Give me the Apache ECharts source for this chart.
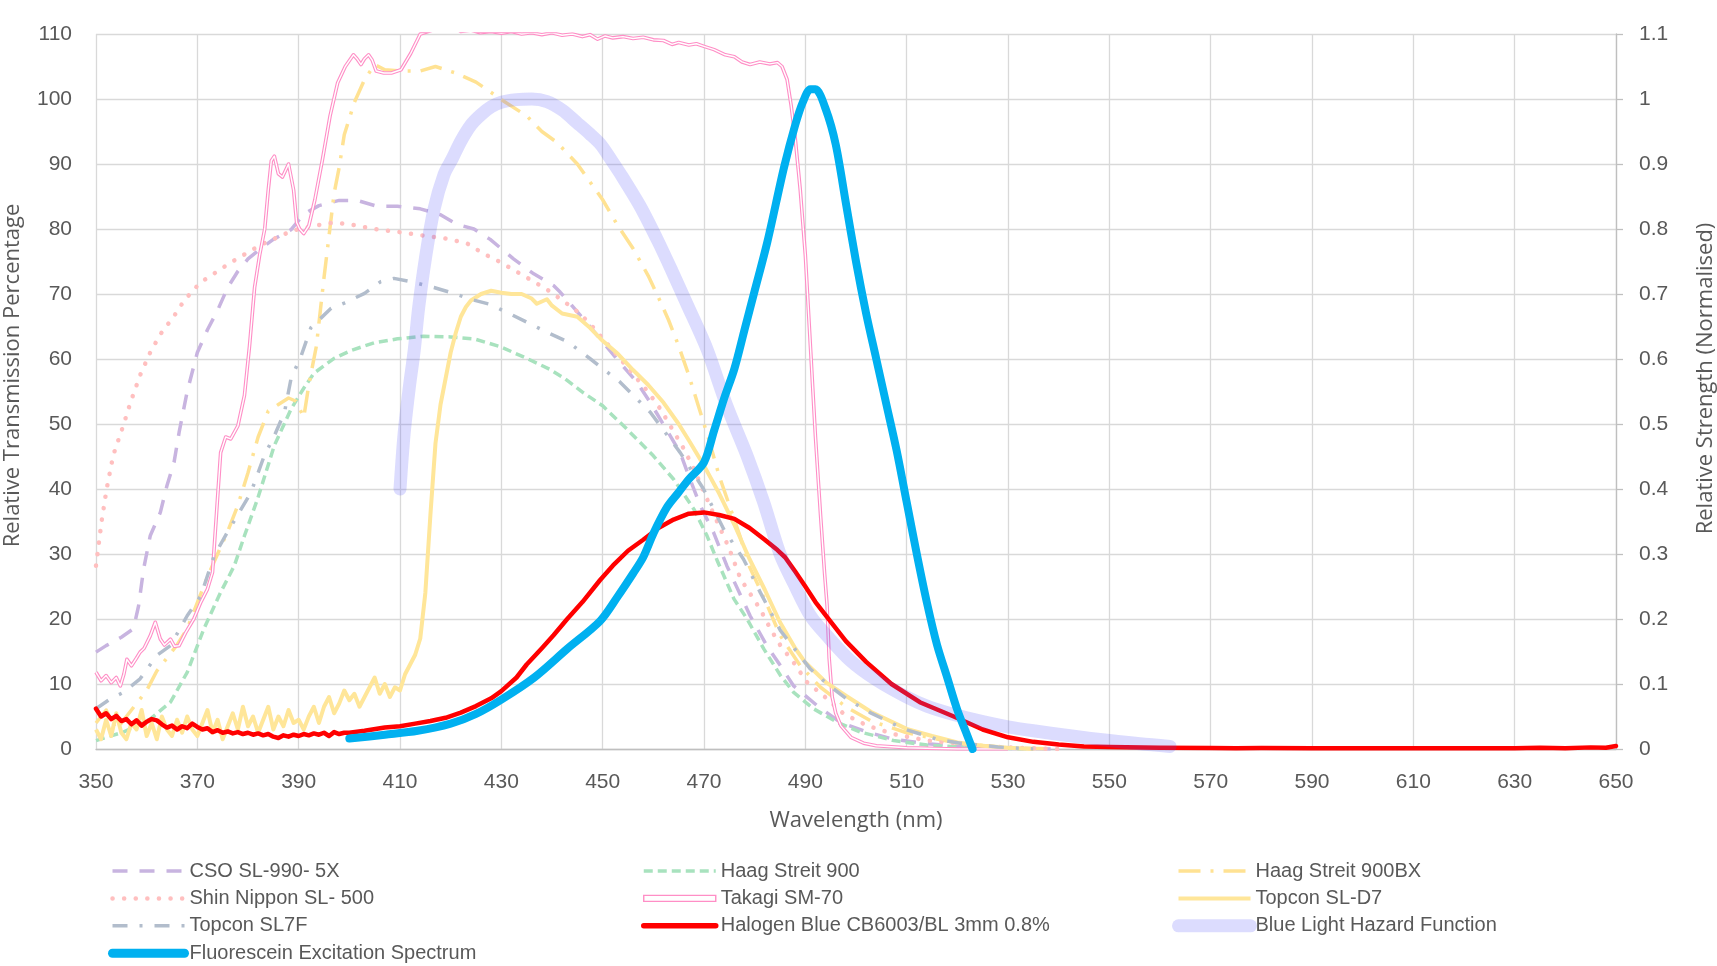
<!DOCTYPE html>
<html>
<head>
<meta charset="utf-8">
<script src="https://cdn.jsdelivr.net/npm/echarts@6/dist/echarts.min.js"></script>
<style>html,body{margin:0;padding:0;background:#fff;}#chart{width:1717px;height:966px;}</style>
</head>
<body>
<div id="chart"></div>
<script>
// ---- data: [wavelength nm, value] ----
const csoData = [[350,14.9],[352,15.9],[355,17.2],[357.4,18.5],[358.4,22],[359.4,27.7],[360.7,32.8],[362.7,36.4],[364,40.5],[365.4,44.1],[366.4,48.7],[368,55],[369,58],[370,61],[372,64.5],[374,67.5],[376,71],[378,73.5],[380,75.4],[382.5,77],[385,78.4],[388.5,79.9],[391,82.3],[394,83.6],[398,84.4],[401.5,84.4],[405.5,83.5],[409.5,83.5],[414,83.1],[418,82.2],[421.3,80.7],[424.6,80],[427.8,78.4],[432.4,75.4],[436.4,73.1],[440.3,71.3],[441.6,70.3],[445.6,66.7],[449.5,63.1],[452.8,60],[456.8,56.4],[459.4,53.3],[462.7,49],[465.3,45.6],[467,42],[469.3,37.4],[471.9,33.3],[474.5,28.2],[479.1,20.5],[482.4,15.9],[485.1,12.8],[487.7,9.7],[492.3,6.7],[496.9,4.1],[502.2,2.6],[507.4,1.5],[514,0.8],[520.6,0.4],[528,0.1],[540,0]];

const haag900Data = [[350,1.3],[355.4,2.6],[360.7,4.6],[364.7,7.2],[368,11.8],[371.3,18.5],[374.6,24.1],[377.3,28.2],[379.3,32.8],[381.9,38.5],[385.2,46.7],[388.5,52.3],[391,55.5],[393,57.8],[397,60.1],[400.3,61.3],[404.9,62.5],[409.5,63.1],[414.7,63.5],[420,63.4],[424.6,63.1],[429.8,61.9],[435,60.1],[439.6,58.4],[442.5,57],[446.2,54.8],[450,52.8],[454.8,49.2],[460,45.1],[464,41.5],[468,36.9],[470.6,32.8],[472.6,29],[475.9,23.1],[478.5,20],[481.8,15.4],[485.1,11.3],[487.7,8.7],[491.6,6.2],[496.3,4.1],[500.9,2.6],[507.4,1.3],[514,0.6],[520.6,0.3],[528,0.1],[535,0]];

const haag900bxData = [[350,4],[352,6],[354,3],[356,5],[358,7],[360,9],[362,12],[364,14],[366,16],[368,18.5],[370,22.5],[372,26.5],[374,30],[376,33.5],[378,37.5],[380,42.5],[382,48],[384,52],[386,53],[388,54],[389.5,53.5],[391,51],[392,56],[393.5,62],[395,72.5],[397,85.5],[398,89.5],[399,94.5],[401,99.5],[403,103],[405,105.3],[407,104.5],[410,104.3],[414,104.3],[417,105],[421,104],[425,102.6],[428,101],[430,99.9],[435,97.4],[438,95],[441,93.3],[445,90],[447,87.8],[450,84.5],[453,80.5],[456,77],[459,72.8],[461,69.5],[463,66],[465,62],[467,57.5],[469,52.5],[471,47.5],[473,42],[475,37.5],[477,33],[479,28],[482,23],[485,17.5],[489,12.8],[493,9.5],[498,6.5],[503,4.3],[510,2.5],[520,0.9],[530,0.2],[540,0]];

const shinNipponData = [[350,28.2],[351.1,35],[352.1,40],[353.4,45.2],[355.4,49.8],[356.8,53.3],[358.7,57.5],[360.7,61],[362.7,63.8],[365.4,66.6],[367.4,69],[370.5,71.7],[376.5,74.8],[382.6,77.6],[388.6,79.7],[392.4,80.4],[397,81],[400.9,80.6],[404.9,80],[410.1,79.5],[415.4,78.9],[419.3,78.5],[423.2,77.8],[426.5,76.2],[429.8,74.9],[433.1,73.4],[436.4,71.9],[439,70.7],[442.3,68.9],[445.5,67],[448.2,64.8],[453.5,60],[458.8,55.1],[461.4,52.3],[466,46.2],[468,43.1],[471.3,37.2],[474.9,31],[477.2,26.2],[481.1,21.5],[483.1,18.5],[485.1,15.9],[487.7,13.3],[490.3,10.3],[493.6,8.2],[497.6,5.4],[502.2,3.6],[507.4,2.3],[514,1.3],[520.6,0.8],[528,0.3],[535,0.1],[540,0]];

const takagiData = [[350,11.8],[351,10.5],[352,11.3],[353,10.2],[354,11],[354.8,9.7],[355.5,11.5],[356.1,13.8],[357,12.8],[358,14],[358.7,14.9],[359.5,15.5],[360.7,17.4],[361.7,19.5],[362.7,16.9],[363.5,16],[364.7,16.9],[365.5,15.8],[366.4,15.9],[367.7,17.9],[369.3,20],[370.7,22.6],[372,24.6],[373,27.2],[373.8,36.4],[374.6,45.6],[375.6,48],[376.6,47.7],[378,49.7],[379.3,54.4],[380.3,62],[381.3,71],[382.3,76],[383.3,80],[384,86],[384.6,90.5],[385.2,91.2],[386,88.5],[386.8,88],[388,90],[389,86],[389.6,81],[390.2,80],[391,79.3],[392,80.5],[393.2,84.5],[394.7,90.7],[396.2,97.4],[397.7,102.5],[399.2,105],[400.8,106.8],[401.5,106.2],[402.3,105.3],[403,106.2],[403.8,106.8],[404.5,106],[405.3,104.3],[406.8,104],[408.3,104],[410.2,104.5],[412.1,107],[414,110],[416,110.5],[418.2,111],[419.7,110.7],[421,110.9],[422,110.4],[424,110.6],[425.8,110.2],[428,110.4],[430,110.1],[432,110.4],[434,110],[436,110.2],[438,109.9],[440,110.2],[442,109.8],[444,110],[446,109.6],[447.5,109.9],[449,109.2],[450.5,109.7],[452,109.4],[454,109.6],[456,109.3],[458,109.5],[460,109.1],[462,109],[463.7,108.4],[465,108.7],[467,108.3],[468.5,108.5],[470,108.1],[472,107.6],[474.2,106.8],[476,106.5],[477.5,105.7],[479.1,105.3],[481,105.7],[483,105.4],[484.5,105.6],[485.4,105],[486.4,103],[487.2,99],[488,94],[489,86],[490,76],[491,62],[492,48],[493,36],[493.8,27],[494.3,22],[494.7,14],[495.3,8],[496,5.5],[497,3.6],[499,1.8],[501.5,0.9],[504,0.5],[510,0.2],[520,0],[530,0]];

const topconD7Data = [[350,3],[351,1.5],[352,4.5],[353,2],[354,5.5],[355,2.5],[356,1.5],[357,4],[358,3],[359,6],[360,2],[361,4],[362,1.5],[363,5],[364,3],[365,2],[366,4.5],[367,2.5],[368,5],[369,3],[370,2],[371,4],[372,6],[373,2.5],[374,4.5],[375,1.5],[376,3.5],[377,5.5],[378,3],[379,6.5],[380,3.5],[381,5],[382,2.5],[383,4.5],[384,6.5],[385,3],[386,5],[387,3.5],[388,6],[389,4],[390,4.5],[391,3],[392,5],[393,6.5],[394,4],[395,6.5],[396,8],[397,5.5],[398,7],[399,9],[400,7.5],[401,8.5],[402,6.5],[403,8],[404,9.5],[405,11],[406,8.5],[407,10],[408,8],[409,9.5],[410,9],[411,11.5],[412,13],[413,14.5],[414,17],[415,24],[416,36],[417,47],[418,53],[419,57],[420,61],[421,64],[422,66.5],[423,68],[424,69],[426,70],[428,70.5],[430,70.2],[432,70],[434,70],[436,69.3],[437,68.5],[439,69.2],[440,68.2],[442,67],[445,66.5],[447.5,64.8],[450,62.8],[453,60.8],[456,58.3],[459,56],[462,53.3],[465,50],[467,47.5],[470,43.6],[473,39.3],[476,34.5],[479,29.2],[482,24.5],[485,19.5],[488,15.5],[490,13.3],[494,10.3],[498,8.2],[503,5.7],[510,3.1],[515,2],[520,1],[525,0.5],[530,0.2],[535,0]];

const topcon7fData = [[350,6.2],[352.8,7.7],[355.4,8.7],[358.7,10.8],[362,14.4],[364.7,15.9],[368,20.5],[370.7,23.6],[373.3,29.7],[375.9,33.3],[377.9,35.9],[380.6,39.5],[383.2,45.1],[385.2,48.2],[387.2,51.8],[388.5,57],[390.5,60.5],[392.4,64.8],[396.4,67.8],[399,68.6],[403,70.1],[406.2,71.9],[408.8,72.4],[412.1,71.9],[416.7,71],[420.6,70.1],[423.9,69.2],[427.8,68.4],[431.8,66.9],[435.7,65.4],[439.6,63.9],[443,62.7],[447.6,60],[453.5,56.4],[459.4,51.8],[465.3,45.6],[469.9,40],[473.9,33.8],[477.8,29.2],[481.1,24.1],[485.1,18.2],[488.4,14.9],[491,12.3],[494.3,10],[498.2,7.7],[502.8,5.6],[509.4,3.1],[516,1.5],[520.6,0.9],[528,0.3],[535,0]];

const halogenData = [[350,6.2],[351,5.0],[352,5.5],[353,4.6],[354,5.1],[355,4.3],[356,4.6],[357,3.8],[358,4.4],[359,3.6],[360,4.2],[361,4.6],[362,4.4],[363,3.8],[364,3.3],[365,3.6],[366,3.0],[367,3.5],[368,3.2],[369,3.9],[370,3.4],[371,3.0],[372,3.2],[373,2.6],[374,2.9],[375,2.5],[376,2.7],[377,2.4],[378,2.6],[379,2.3],[380,2.5],[381,2.2],[382,2.4],[383,2.1],[384,2.3],[385,1.9],[386,1.7],[387,2.1],[388,1.9],[389,2.2],[390,2.0],[391,2.3],[392,2.1],[393,2.4],[394,2.2],[395,2.5],[396,2.0],[397,2.6],[398,2.3],[399,2.5],[400,2.5],[403,2.8],[407,3.3],[410,3.5],[413,3.9],[416,4.3],[419,4.8],[422,5.6],[425,6.6],[428,7.8],[430,8.9],[433,11],[435,13],[438,15.5],[440.3,17.5],[443,20],[446,22.6],[449.5,26],[452,28.2],[455,30.5],[458,32.2],[461,34],[464,35.3],[467,36.2],[470,36.4],[473,36],[476,35.4],[479,34],[482,32.2],[484.5,30.6],[486,29.5],[488,27.3],[490,25],[492,22.6],[494.3,20.3],[498,16.6],[502,13.4],[507,10],[512.6,7.2],[519.3,5.0],[525,3.0],[530,1.8],[535,1.1],[540,0.7],[545,0.4],[550,0.3],[560,0.2],[570,0.15],[575,0.1],[580,0.15],[590,0.1],[600,0.12],[610,0.1],[620,0.12],[630,0.1],[635,0.2],[640,0.1],[645,0.25],[648,0.2],[650,0.45]];

// right axis (normalised)
const hazardData = [[410,0.40],[410.8,0.484],[411.8,0.554],[412.8,0.613],[413.7,0.68],[415,0.754],[416.7,0.83],[418.7,0.884],[420.3,0.908],[422,0.935],[424,0.96],[426,0.976],[428,0.988],[430,0.995],[433,0.999],[436,1.0],[439,0.996],[442,0.983],[445,0.963],[447.5,0.946],[449.6,0.93],[451.8,0.905],[453.9,0.88],[457.4,0.835],[461,0.78],[463.7,0.735],[466.6,0.685],[470.6,0.615],[474.5,0.528],[478.5,0.451],[481.8,0.379],[485,0.30],[487.7,0.255],[491,0.205],[494.3,0.174],[498.9,0.136],[504.1,0.106],[510,0.08],[514,0.066],[519.3,0.053],[525,0.042],[530,0.034],[535,0.028],[542.6,0.02],[550,0.013],[556,0.008],[562,0.004]];

const fluoresceinData = [[400,0.016],[407,0.022],[413.5,0.028],[420,0.039],[425,0.054],[430,0.076],[436.5,0.11],[443,0.154],[449.5,0.197],[453,0.235],[456,0.27],[458,0.295],[460.1,0.333],[462.7,0.372],[465,0.395],[467,0.415],[470,0.441],[472,0.49],[474,0.54],[476,0.585],[478,0.645],[480,0.705],[482.5,0.78],[485.8,0.895],[488,0.96],[489.5,0.995],[491,1.015],[492,1.015],[494,0.985],[496,0.93],[498,0.84],[500,0.75],[502,0.67],[504,0.6],[506,0.53],[508,0.46],[510,0.38],[512,0.3],[514,0.225],[516,0.16],[518,0.11],[520,0.06],[522,0.02],[523,0]];

const seriesNames = ['CSO SL-990- 5X','Haag Streit 900','Haag Streit 900BX','Shin Nippon SL- 500','Takagi SM-70','Topcon SL-D7','Topcon SL7F','Halogen Blue CB6003/BL 3mm 0.8%','Blue Light Hazard Function','Fluorescein Excitation Spectrum'];
const xTitle = 'Wavelength (nm)';
const yLeftTitle = 'Relative Transmission Percentage';
const yRightTitle = 'Relative Strength (Normalised)';

// ---- chart ----
const tickFont = '"Liberation Sans", Arial, sans-serif';
const titleFont = '"Open Sans", "DejaVu Sans", sans-serif';
const grey = '#595959';

const styles = [
  { c: '#c8b4e0', w: 3.5, t: [15, 12], cap: 'butt' },
  { c: '#a8e2be', w: 3.5, t: [9, 5], cap: 'butt' },
  { c: '#ffe293', w: 3.5, t: [22, 10, 3, 10], cap: 'butt' },
  { c: '#ffbfbf', w: 4.5, t: [0.1, 11.5], cap: 'round' },
  { c: '#ff8ec6', w: 3.6, t: 'solid', cap: 'butt' },
  { c: '#ffe699', w: 4, t: 'solid', cap: 'butt' },
  { c: '#b2bdcc', w: 3.5, t: [15, 12, 3, 12], cap: 'butt' },
  { c: '#ff0000', w: 4.5, t: 'solid', cap: 'round' },
  { c: 'rgba(80,80,250,0.2)', w: 13, t: 'solid', cap: 'round' },
  { c: '#00b0f0', w: 8, t: 'solid', cap: 'round' }
];

function ln(i, data, yIdx, extra) {
  const s = styles[i];
  return Object.assign({
    name: seriesNames[i], type: 'line', data: data, yAxisIndex: yIdx || 0,
    showSymbol: false, symbol: 'none', animation: false, silent: true,
    lineStyle: { color: s.c, width: s.w, type: s.t, cap: s.cap, join: 'round' },
    itemStyle: { color: s.c }
  }, extra || {});
}

function legendItem(i) {
  if (i === 4) {
    return { name: seriesNames[i], icon: 'path://M0,0H72V6H0Z',
      itemStyle: { color: '#ffffff', borderColor: '#ff8ec6', borderWidth: 1.4, opacity: 1 } };
  }
  const s = styles[i];
  return { name: seriesNames[i], lineStyle: { width: i === 9 ? 9 : (i === 7 ? 5.5 : s.w), cap: s.cap } };
}

const columnLefts = [108, 641, 1172];
const columns = [[0, 3, 6, 9], [1, 4, 7], [2, 5, 8]];

const chart = echarts.init(document.getElementById('chart'), null, { renderer: 'canvas' });
chart.setOption({
  animation: false,
  grid: { left: 96, right: 101, top: 34, bottom: 217, containLabel: false, outerBoundsMode: 'none' },
  xAxis: {
    type: 'value', min: 350, max: 650, interval: 20,
    name: xTitle, nameLocation: 'middle', nameGap: 61,
    nameTextStyle: { fontFamily: titleFont, fontSize: 22, color: grey },
    axisLine: { show: true, lineStyle: { color: '#bfbfbf', width: 1.3 } },
    axisTick: { show: false },
    axisLabel: { margin: 23, fontFamily: tickFont, fontSize: 21, color: grey },
    splitLine: { show: true, lineStyle: { color: '#d9d9d9', width: 1.3 } }
  },
  yAxis: [
    {
      type: 'value', min: 0, max: 110, interval: 10, position: 'left',
      name: yLeftTitle, nameLocation: 'middle', nameGap: 72, nameRotate: 90,
      nameTextStyle: { fontFamily: titleFont, fontSize: 22, color: grey, padding: [0, 0, 0, 32] },
      axisLine: { show: false }, axisTick: { show: false },
      axisLabel: { margin: 24, fontFamily: tickFont, fontSize: 21, color: grey },
      splitLine: { show: true, lineStyle: { color: '#d9d9d9', width: 1.3 } }
    },
    {
      type: 'value', min: 0, max: 1.1, interval: 0.1, position: 'right',
      name: yRightTitle, nameLocation: 'middle', nameGap: 79, nameRotate: 90,
      nameTextStyle: { fontFamily: titleFont, fontSize: 22, color: grey, padding: [0, 0, 0, 26] },
      axisLine: { show: true, lineStyle: { color: '#bfbfbf', width: 1.3 } },
      axisTick: { show: true, length: 7, lineStyle: { color: '#bfbfbf', width: 1.3 } },
      axisLabel: { margin: 23, fontFamily: tickFont, fontSize: 21, color: grey },
      splitLine: { show: false }
    }
  ],
  legend: columns.map(function (col, k) {
    return {
      orient: 'vertical', left: columnLefts[k], top: 861, height: 115, padding: 0,
      itemWidth: 72, itemHeight: 20, itemGap: 7.4,
      itemStyle: { opacity: 0 },
      textStyle: { fontFamily: tickFont, fontSize: 20, color: grey },
      selectedMode: false,
      data: col.map(legendItem)
    };
  }),
  series: [
    ln(0, csoData),
    ln(1, haag900Data),
    ln(2, haag900bxData),
    ln(3, shinNipponData),
    ln(4, takagiData),
    { name: 'takagi-inner', type: 'line', data: takagiData, showSymbol: false, symbol: 'none', silent: true,
      lineStyle: { color: '#ffffff', width: 1.4, join: 'round' } },
    ln(5, topconD7Data),
    ln(6, topcon7fData),
    ln(7, halogenData),
    ln(8, hazardData, 1, { smooth: 0.3 }),
    ln(9, fluoresceinData, 1, { smooth: 0.3 })
  ]
});
</script>
</body>
</html>
